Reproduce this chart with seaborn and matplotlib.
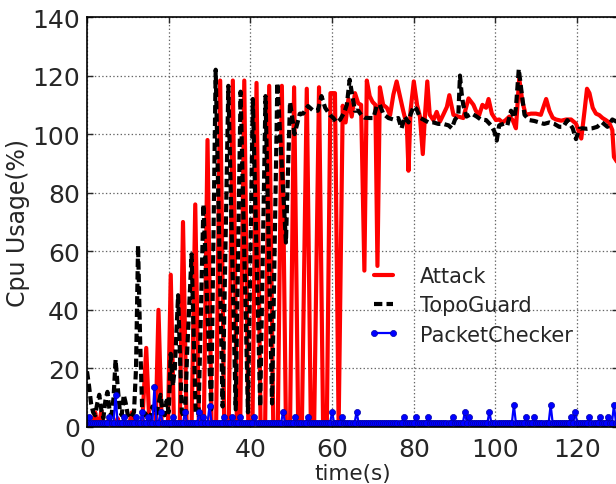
import numpy as np
import matplotlib
matplotlib.use("Agg")
import matplotlib.pyplot as plt
import seaborn as sns

# ---------------- data ----------------
attack_t = [0, 0.5, 1.5, 2, 2.5, 3, 3.5, 4, 4.5, 5.5, 6, 7, 7.5, 8, 10, 10.5, 11, 11.5, 12.5, 13.5,
            14.5, 15.3, 16.8, 17.5, 18.3, 19.8, 20.5, 21.3, 22.7, 23.5, 24.4, 25.6, 26.5, 27.4, 28.6, 29.5, 30.5, 31.6,
            32.6, 33.6, 34.7, 35.7, 36.7, 37.5, 38.5, 39.5, 40.5, 41.5, 42.5, 43.6, 44.6, 45.6, 46.7, 47.7, 48.7, 49.7,
            50.7, 51.7, 52.6, 53.8, 54.8, 55.6, 56.8, 57.8, 58.7, 59.6, 60.7, 61.6,
            62.6, 63.3, 64.0, 64.8, 65.6, 66.4, 67.1, 67.9, 68.5, 69.2,
            69.9, 70.6, 71.1, 71.7, 72.5, 73.4, 74.2, 75.0, 75.8, 76.6,
            77.4, 78.3, 78.7, 79.2, 80.0, 80.8, 81.5, 82.2, 82.7, 83.3,
            83.9, 84.8, 85.6, 86.4, 87.2, 88.1, 88.7, 89.7, 90.9, 92.1,
            93.4, 94.6, 95.2, 96.0, 96.8, 97.7, 98.3, 99.1, 100.1, 100.9,
            101.7, 102.5, 103.4, 104.2, 105.0, 105.8, 106.6, 107.4, 108.7, 109.9,
            111.1, 112.4, 113.2, 114.0, 114.8, 116.1, 117.3, 118.5, 119.7, 121.0,
            121.8, 122.4, 123.0, 123.8, 124.6, 125.4, 126.2, 127.0, 127.8, 128.6,
            129.0, 130.0]
attack_v = [1, 0, 0, 5, 1, 1, 5.5, 1, 0, 3, 0.5, 0, 3, 0, 0, 2, 5, 1, 0, 0.5,
            27, 0, 0, 40, 0, 0, 52, 0, 0, 70, 0, 0, 76, 0, 0, 98, 0, 0,
            118.3, 0, 0, 118.3, 0, 0, 118.3, 0, 0, 117.5, 0, 0, 116.5, 0, 0, 116.5, 0, 0,
            116, 0, 0, 115.5, 0, 0, 116, 0, 0, 114, 114, 0,
            109.7, 104, 112, 106, 114, 110.5, 110, 53.4, 118.3, 113,
            111, 110, 55, 116, 110, 109, 106.5, 113.5, 118, 113,
            108, 103, 87.5, 108, 118, 110, 106, 93.2, 105.6, 118,
            106.6, 104.8, 107.6, 104.3, 106.6, 109.3, 113.3, 106.6, 106, 105.5,
            112.2, 110, 108, 106.5, 110, 109, 112, 107, 104.8, 105,
            104, 104.8, 106, 104.8, 102, 119, 111, 106.6, 107, 107,
            106.6, 112, 108, 105.6, 105, 104.6, 105, 105, 103.6, 98.5,
            108, 115.5, 114, 109, 107, 106.5, 105.5, 104.8, 104, 101.4,
            92.2, 90]

topo_t = [0, 0.5, 1, 1.5, 2, 2.5, 3, 3.5, 4, 4.5,
          5, 5.5, 6, 6.5, 7, 7.5, 8, 8.5, 9, 9.5,
          10, 10.5, 11, 11.5, 12, 12.5, 13, 13.5, 14, 15,
          15.5, 16, 16.5, 17, 17.5, 18, 18.5, 19, 19.5, 20,
          20.5, 21, 21.5, 22.3, 23.2, 24, 24.5, 25.6, 26.6, 27.3,
          28.5, 30.4, 31.5, 33.2, 34.6, 36.4, 37.6, 39.4, 40.6, 42.4,
          43.7, 45.3, 46.6, 48.7, 49.7, 50.8, 52.1, 52.9, 54.1, 55.4,
          56.5, 57.4, 58.3, 59.5, 60.3, 61.1, 62.0, 63.0, 63.6, 64.3,
          65.0, 65.6, 66.4, 67.2, 68.0, 69.3, 70.1, 70.9, 71.7, 72.5,
          73.8, 75.0, 76.2, 77.0, 77.8, 78.7, 79.2, 80.0, 80.7, 81.5,
          82.3, 83.6, 84.8, 86.0, 87.2, 88.5, 89.3, 90.1, 90.9, 91.3,
          91.7, 92.1, 92.9, 94.2, 95.4, 96.4, 97.7, 98.9, 99.7, 100.3,
          100.9, 102.1, 102.9, 103.8, 104.6, 105.0, 105.7, 106.3, 107.1, 108.3,
          109.5, 110.7, 111.9, 113.2, 114.4, 115.6, 116.6, 117.6, 118.9, 119.7,
          120.5, 121.3, 122.5, 123.7, 124.9, 126.1, 127.4, 128.6, 130.0]
topo_v = [19, 14, 8, 5, 4, 8, 11, 6, 3, 9,
          12, 6, 4, 10, 23, 14, 6, 4, 11, 8,
          4, 3, 4, 5, 20, 62, 30, 6, 4, 5,
          3, 7, 5, 4, 8, 11, 6, 4, 9, 5,
          25, 14, 20, 45, 5, 3, 25, 59, 5, 4,
          76, 6, 122, 7, 116.5, 6, 114.5, 5, 112, 7,
          113, 8, 117.5, 63, 111, 100, 107, 107, 109.6, 108,
          108, 113, 109, 106.5, 105.5, 104, 105, 107.5, 110, 118.6,
          112.7, 108, 108, 106.4, 105.6, 105.5, 105.5, 109.5, 110, 107,
          105.5, 105, 105.5, 102, 106, 104, 106.7, 109.5, 108.5, 105.6,
          105, 104, 104, 103.5, 103.5, 103, 102, 105, 106.4, 120,
          114, 110, 106, 107, 106, 105, 104.8, 103, 101, 97.8,
          103, 103.6, 103, 108, 105.6, 109, 122.2, 115.3, 106.6, 104.8,
          104.5, 104, 103.5, 104, 103.5, 102.5, 102.5, 104.8, 102, 98.3,
          101.8, 102, 101.8, 102, 102.5, 104, 102.5, 105, 104]

# PacketChecker sampled every 0.5 s from t = 0 to 130
packet_v = [1.3, 3.3, 1.3, 1.3, 1.3, 1.3, 1.3, 1.3, 1.3, 1.3, 1.3, 3.3, 1.3, 1.3, 11, 1.3, 1.3, 1.3, 3.3, 1.3,
            1.3, 1.3, 1.3, 1.3, 3.3, 1.3, 1.3, 5.2, 1.3, 1.3, 3.3, 1.3, 1.3, 13.5, 1.3, 1.3, 5.2, 1.3, 1.3, 1.3,
            1.3, 1.3, 3.3, 1.3, 1.3, 1.3, 1.3, 1.3, 5.2, 1.3, 1.3, 1.3, 1.3, 1.3, 1.3, 5.2, 1.3, 3.3, 1.3, 1.3,
            7.3, 1.3, 1.3, 1.3, 1.3, 1.3, 1.3, 3.3, 1.3, 1.3, 1.3, 3.3, 1.3, 1.3, 1.3, 3.3, 1.3, 1.3, 1.3, 1.3,
            1.3, 1.3, 3.3, 1.3, 1.3, 1.3, 1.3, 1.3, 1.3, 1.3, 1.3, 1.3, 1.3, 1.3, 1.3, 1.3, 5.2, 1.3, 1.3, 1.3,
            1.3, 1.3, 3.3, 1.3, 1.3, 1.3, 1.3, 1.3, 3.3, 1.3, 1.3, 1.3, 1.3, 1.3, 1.3, 1.3, 1.3, 1.3, 1.3, 1.3,
            5.2, 1.3, 1.3, 1.3, 1.3, 3.3, 1.3, 1.3, 1.3, 1.3, 1.3, 1.3, 5.2, 1.3, 1.3, 1.3, 1.3, 1.3, 1.3, 1.3,
            1.3, 1.3, 1.3, 1.3, 1.3, 1.3, 1.3, 1.3, 1.3, 1.3, 1.3, 1.3, 1.3, 1.3, 1.3, 3.3, 1.3, 1.3, 1.3, 1.3,
            1.3, 3.3, 1.3, 1.3, 1.3, 1.3, 1.3, 3.3, 1.3, 1.3, 1.3, 1.3, 1.3, 1.3, 1.3, 1.3, 1.3, 1.3, 1.3, 3.3,
            1.3, 1.3, 1.3, 1.3, 1.3, 5.2, 1.3, 3.3, 1.3, 1.3, 1.3, 1.3, 1.3, 1.3, 1.3, 1.3, 1.3, 5.2, 1.3, 1.3,
            1.3, 1.3, 1.3, 1.3, 1.3, 1.3, 1.3, 1.3, 1.3, 7.5, 1.3, 1.3, 1.3, 1.3, 1.3, 3.3, 1.3, 1.3, 1.3, 3.3,
            1.3, 1.3, 1.3, 1.3, 1.3, 1.3, 1.3, 7.5, 1.3, 1.3, 1.3, 1.3, 1.3, 1.3, 1.3, 1.3, 1.3, 3.3, 1.3, 5.2,
            1.3, 1.3, 1.3, 1.3, 1.3, 1.3, 3.3, 1.3, 1.3, 1.3, 1.3, 3.3, 1.3, 1.3, 1.3, 3.3, 1.3, 1.3, 7.5, 1.3, 1.3]
packet_t = np.arange(len(packet_v)) * 0.5

series_labels = ["Attack", "TopoGuard", "PacketChecker"]
x_ticks = [0, 20, 40, 60, 80, 100, 120]
y_ticks = [0, 20, 40, 60, 80, 100, 120, 140]

# ---------------- style ----------------
sns.set_style("ticks", {"xtick.direction": "in", "ytick.direction": "in",
                        "axes.edgecolor": "black"})
plt.rcParams['font.family'] = ['DejaVu Sans']
plt.rcParams['lines.scale_dashes'] = False

W, H = 616, 485
fig = plt.figure(figsize=(W / 100, H / 100), dpi=100)
left, bottom, top = 87, 428, 18
px_per_unit = 4.085
x_max = 130
ax = fig.add_axes([left / W, (H - bottom) / H, x_max * px_per_unit / W, (bottom - top) / H])

sns.lineplot(x=attack_t, y=attack_v, ax=ax, color="red", linewidth=3,
             label=series_labels[0], sort=False, estimator=None)
sns.lineplot(x=topo_t, y=topo_v, ax=ax, color="black", linewidth=3, linestyle="--",
             label=series_labels[1], sort=False, estimator=None)
sns.lineplot(x=packet_t, y=packet_v, ax=ax, color="blue", linewidth=1.6, marker="o",
             markersize=4.4, markeredgecolor="#0000a8", markeredgewidth=0.5,
             label=series_labels[2], sort=False, estimator=None)

ax.lines[1].set_dashes([6, 3])

ax.set_xlim(0, x_max)
ax.set_ylim(0, 140)
ax.set_xticks(x_ticks)
ax.set_yticks(y_ticks)
ax.tick_params(axis="both", labelsize=18, direction="in", length=4, width=1,
               top=True, right=True)
ax.tick_params(axis="x", pad=7)
ax.tick_params(axis="y", pad=5)
ax.grid(True, linestyle=":", color="0.4", linewidth=0.9)
ax.set_axisbelow(True)
for s in ax.spines.values():
    s.set_color("black")
    s.set_linewidth(1.2)

ax.set_xlabel("time(s)", fontsize=15.5, labelpad=2)
ax.set_ylabel("Cpu Usage(%)", fontsize=17, labelpad=2)

handles, labels = ax.get_legend_handles_labels()
ax.legend(handles, labels, loc="upper left", bbox_to_anchor=(368 / W, 1 - 267 / H),
          bbox_transform=fig.transFigure, frameon=False, fontsize=15,
          handlelength=1.5, handletextpad=1.0, labelspacing=0.45,
          borderpad=0, borderaxespad=0, numpoints=2)

fig.savefig("out.png", dpi=100)
